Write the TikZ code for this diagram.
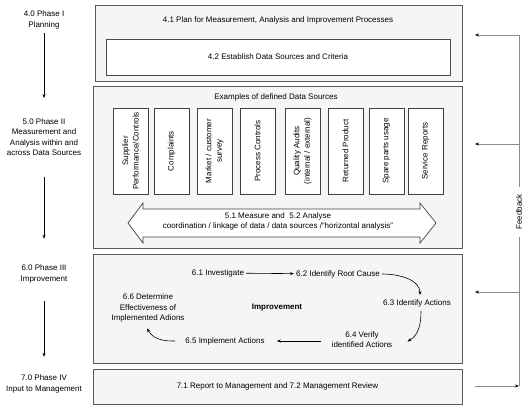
\documentclass[tikz,border=0pt]{standalone}
\usepackage{fontspec}
\setmainfont{Liberation Sans}
\usetikzlibrary{arrows.meta}
\begin{document}
\begin{tikzpicture}[x=1pt,y=-1pt,
  font=\fontsize{8}{10.5}\selectfont,
  outerbox/.style={draw=black!65, line width=0.9pt, fill=black!4, inner sep=0pt},
  innerbox/.style={draw=black!70, line width=0.8pt, fill=white},
  dsbox/.style={draw=black!75, line width=0.7pt, fill=white, rotate=90,
    minimum width=86pt, minimum height=35pt, align=center, inner sep=1pt},
  lbl/.style={align=center, inner sep=2pt},
  arr/.style={-{Stealth[length=4pt,width=3pt]}, line width=0.6pt},
  fbline/.style={draw=black!45, line width=0.9pt},
  fbarr/.style={fbline, -{Stealth[length=4pt,width=3pt,color=black]}}]
\useasboundingbox (0,0) rectangle (530,410);

% phase labels
\node[lbl] (p4) at (44,20) {4.0 Phase I\\Planning};
\node[lbl] (p5) at (44,137) {5.0 Phase II\\Measurement and\\Analysis within and\\across Data Sources};
\node[lbl] (p6) at (44,274) {6.0 Phase III\\Improvement};
\node[lbl] (p7) at (44,384) {7.0 Phase IV\\Input to Management};
\draw[arr, shorten <=2pt, shorten >=18pt] (p4) -- (p5);
\draw[arr, shorten <=19pt, shorten >=24pt] (p5) -- (p6);
\draw[arr, shorten <=16pt, shorten >=16pt] (p6) -- (p7);

% Phase I box
\node[outerbox, minimum width=367pt, minimum height=76pt] (b1) at (278.5,43) {};
\node[lbl] (t41) at (278,20) {4.1 Plan for Measurement, Analysis and Improvement Processes};
\node[innerbox, minimum width=344pt, minimum height=36pt] (b42) at (278,57) {4.2 Establish Data Sources and Criteria};

% Phase II box
\node[outerbox, minimum width=369pt, minimum height=162pt] (b2) at (277.5,167) {};
\node[lbl] (t5) at (276,97) {Examples of defined Data Sources};
\node[dsbox] (d1) at (130.5,151) {Supplier\\Performance/Controls};
\node[dsbox] (d2) at (171.5,151) {Complaints};
\node[dsbox] (d3) at (214.5,151) {Market / customer\\survey};
\node[dsbox] (d4) at (257.5,151) {Process Controls};
\node[dsbox] (d5) at (302.5,151) {Quality Audits\\(internal / external)};
\node[dsbox] (d6) at (345.5,151) {Returned Product};
\node[dsbox] (d7) at (386.5,151) {Spare parts usage};
\node[dsbox] (d8) at (425.5,151) {Service Reports};
\draw[draw=black!75, line width=0.7pt, fill=white]
  (128,223) -- (143,203) -- (143,209) -- (420,209) -- (420,203) -- (436,223)
  -- (420,243) -- (420,237) -- (143,237) -- (143,243) -- cycle;
\node[lbl] (ma) at (278,221.5) {5.1 Measure and~ 5.2 Analyse\\coordination / linkage of data / data sources /“horizontal analysis”};

% Phase III box
\node[outerbox, minimum width=369pt, minimum height=109pt] (b3) at (277.5,308.5) {};
\node[lbl] (n61) at (218,273) {6.1 Investigate};
\node[lbl] (n62) at (338,274) {6.2 Identify Root Cause};
\node[lbl] (n63) at (417,303) {6.3 Identify Actions};
\node[lbl] (n64) at (362,339.5) {6.4 Verify\\identified Actions};
\node[lbl] (n65) at (225,341) {6.5 Implement Actions};
\node[lbl] (n66) at (148,308) {6.6 Determine\\Effectiveness of\\Implemented Adions};
\node[lbl, font=\fontsize{8}{10.5}\selectfont\bfseries] (imp) at (277,308) {Improvement};
\draw[arr] (n61) -- (n62);
\draw[arr, shorten >=2pt] (n62.east) to[out=0,in=90] ([xshift=3pt]n63.north);
\draw[arr] ([xshift=4pt,yshift=-2pt]n63.south) to[out=-90,in=30] ([xshift=13pt,yshift=-2pt]n64.east);
\draw[arr, shorten <=9pt, shorten >=10pt] (n64.west |- n65.east) -- (n65.east);
\draw[arr, shorten <=8pt] (n65.west) to[out=180,in=-60] ([xshift=-1pt,yshift=-4pt]n66.south);

% Phase IV box
\node[outerbox, minimum width=369pt, minimum height=35pt] (b4) at (277.5,386.5) {7.1 Report to Management and 7.2 Management Review};

% feedback
\coordinate (f1) at (519,35);
\coordinate (f2) at (519,144);
\coordinate (f3) at (519,292);
\coordinate (f4) at (519,386);
\coordinate (e1) at (475,35);
\coordinate (e2) at (475,144);
\coordinate (e3) at (475,292);
\coordinate (e4) at (475,386);
\node[lbl, rotate=90] (fb) at (519,212) {Feedback};
\draw[fbline, shorten >=5pt] (f1) -- (fb.east);
\draw[fbline, shorten <=5pt] (fb.west) -- (f4);
\draw[fbarr] (f1) -- (e1);
\draw[fbarr] (f2) -- (e2);
\draw[fbarr] (f3) -- (e3);
\draw[fbarr] (e4) -- (f4);
\end{tikzpicture}
\end{document}
